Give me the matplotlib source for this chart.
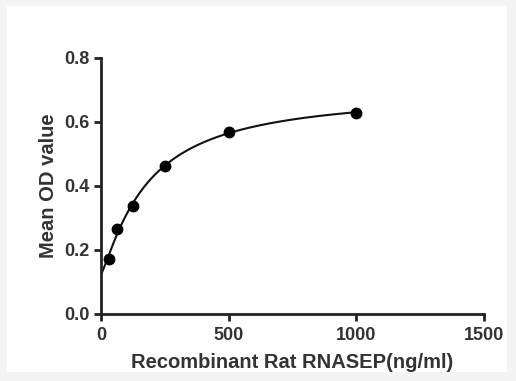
import numpy as np
import matplotlib
matplotlib.use('Agg')
from matplotlib import pyplot as plt
from matplotlib.patches import Rectangle

conc = [31.25, 62.5, 125, 250, 500, 1000]
od = [0.171, 0.265, 0.335, 0.462, 0.567, 0.628]
od_blank = 0.126  # where the fitted curve meets the y axis (not drawn as a point)
xticks = [0, 500, 1000, 1500]
yticks = [0.0, 0.2, 0.4, 0.6, 0.8]

plt.rcParams['font.family'] = ['Liberation Sans', 'DejaVu Sans']

# 4PL fit y = d + (a-d)/(1+(x/c)^b), grid over b,c, least squares for a,d
x = np.array([0.0] + conc)
y = np.array([od_blank] + od)
best = None
for bb in np.linspace(0.5, 2.5, 81):
    for cc in np.linspace(30, 1500, 300):
        g = 1.0 / (1.0 + (x / cc) ** bb)
        A = np.column_stack([1 - g, g])
        coef = np.linalg.lstsq(A, y, rcond=None)[0]
        err = ((A @ coef - y) ** 2).sum()
        if best is None or err < best[0]:
            best = (err, bb, cc, coef)
_, bb, cc, (d, a) = best
xs = np.linspace(0, max(conc), 400)
ys = d + (a - d) / (1.0 + (xs / cc) ** bb)

fig = plt.figure(figsize=(5.16, 3.81), dpi=100)
fig.patch.set_facecolor('#f4f4f4')
bg = Rectangle((7 / 516, 9 / 381), 500 / 516, 366 / 381,
               transform=fig.transFigure, facecolor='white',
               edgecolor='none', zorder=-5)
fig.add_artist(bg)

ax = fig.add_axes([0.1957, 0.177, 0.742, 0.672])
ax.set_zorder(2)
ax.set_facecolor('none')
ax.plot(xs, ys, color='#111111', lw=1.5, zorder=2)
ax.plot(conc, od, 'o', color='black', ms=7.5, zorder=3, clip_on=False)

ax.set_xlim(0, 1500)
ax.set_ylim(0, 0.8)
ax.set_xticks(xticks)
ax.set_yticks(yticks)
ax.set_xticklabels([str(t) for t in xticks])
ax.set_yticklabels(['%.1f' % t for t in yticks])
for s in ['top', 'right']:
    ax.spines[s].set_visible(False)
for s in ['left', 'bottom']:
    ax.spines[s].set_linewidth(2)
    ax.spines[s].set_color('#222222')
ax.tick_params(direction='out', length=5, width=2, color='#222222',
               labelsize=13, labelcolor='#333333')
ax.tick_params(axis='x', pad=5)
ax.tick_params(axis='y', pad=3)
for lab in ax.get_xticklabels() + ax.get_yticklabels():
    lab.set_fontweight('bold')

ax.set_xlabel('Recombinant Rat RNASEP(ng/ml)', fontsize=14.5, fontweight='bold',
              color='#333333', labelpad=6)
ax.set_ylabel('Mean OD value', fontsize=14.5, fontweight='bold',
              color='#333333', labelpad=5)

plt.savefig('out.png', dpi=100)
